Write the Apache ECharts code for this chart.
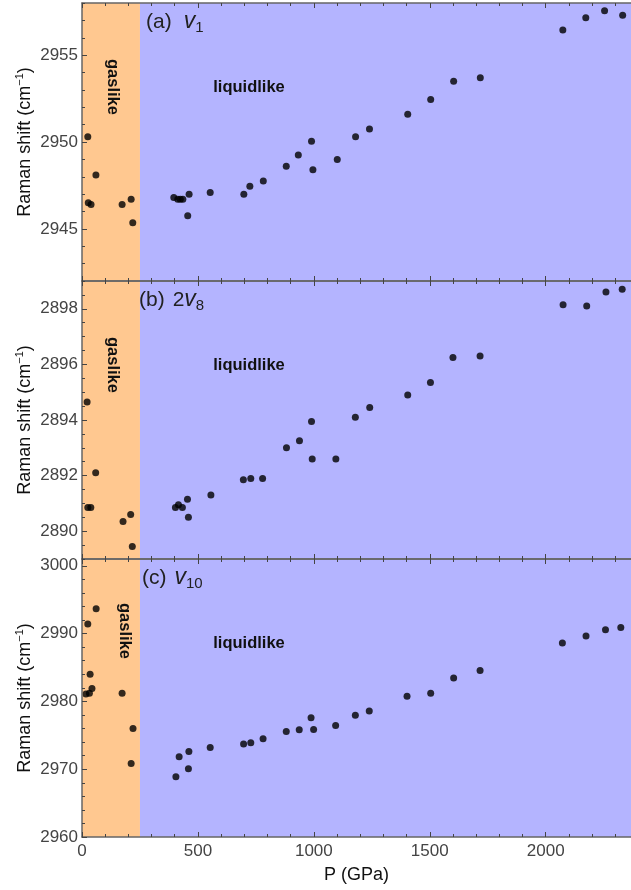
<!DOCTYPE html>
<html>
<head>
<meta charset="utf-8">
<title>Raman shift vs P</title>
<script src="https://cdn.jsdelivr.net/npm/echarts@6/dist/echarts.min.js"></script>
<style>
  html, body { margin: 0; padding: 0; background: #fff; }
  #main { width: 631px; height: 890px; }
</style>
</head>
<body>
<div id="main"></div>
<script>
// pressure (GPa) and Raman shift (cm-1) for the three modes
var pA = [25, 27, 39, 60, 173, 212, 219, 396, 413, 424, 435, 456, 462, 553, 698, 724, 782, 881, 933, 990, 996, 1101, 1180, 1240, 1405, 1504, 1603, 1718, 2074, 2173, 2254, 2332];
var ramanA = [2950.3, 2946.5, 2946.4, 2948.1, 2946.4, 2946.7, 2945.35, 2946.8, 2946.7, 2946.7, 2946.7, 2945.75, 2947.0, 2947.1, 2947.0, 2947.45, 2947.75, 2948.6, 2949.25, 2950.05, 2948.4, 2949.0, 2950.3, 2950.75, 2951.6, 2952.45, 2953.5, 2953.7, 2956.45, 2957.15, 2957.55, 2957.3];

var pB = [22, 25, 38, 59, 177, 210, 217, 403, 416, 433, 455, 459, 556, 696, 728, 779, 882, 938, 990, 993, 1095, 1179, 1241, 1405, 1503, 1600, 1717, 2075, 2177, 2260, 2330];
var ramanB = [2894.65, 2890.85, 2890.85, 2892.1, 2890.35, 2890.6, 2889.45, 2890.85, 2890.95, 2890.85, 2891.15, 2890.5, 2891.3, 2891.85, 2891.9, 2891.9, 2893.0, 2893.25, 2893.95, 2892.6, 2892.6, 2894.1, 2894.45, 2894.9, 2895.35, 2896.25, 2896.3, 2898.15, 2898.1, 2898.6, 2898.7];

var pC = [17, 25, 32, 35, 43, 61, 173, 212, 220, 405, 419, 459, 461, 553, 697, 728, 781, 881, 937, 988, 999, 1094, 1179, 1239, 1402, 1504, 1603, 1717, 2072, 2174, 2258, 2324];
var ramanC = [2981.1, 2991.4, 2981.2, 2984.0, 2981.9, 2993.65, 2981.2, 2970.85, 2976.0, 2968.9, 2971.85, 2970.05, 2972.6, 2973.2, 2973.7, 2973.9, 2974.5, 2975.55, 2975.8, 2977.6, 2975.85, 2976.45, 2977.95, 2978.6, 2980.75, 2981.2, 2983.45, 2984.55, 2988.6, 2989.65, 2990.55, 2990.9];

// axis ranges and tick labels
var pMax = 2368;
var gasEdge = 250;
var yRangeA = [2942, 2958], yTicksA = [2945, 2950, 2955];
var yRangeB = [2889, 2899], yTicksB = [2890, 2892, 2894, 2896, 2898];
var yRangeC = [2960, 3001], yTicksC = [2960, 2970, 2980, 2990, 3000];
var minorStep = [1, 0.5, 2];
var titles = ['(a){i|v}{sub|1}', '(b){n|2}{j|v}{sub|8}', '(c){i2|v}{sub|10}'];
var titleLeft = [146, 139, 142];

var FONT = '"Liberation Sans", Arial, sans-serif';
var panelTop = [3, 281, 559];
var panelH = 278;

function zip(xs, ys) {
  var out = [];
  for (var i = 0; i < xs.length; i++) out.push([xs[i], ys[i]]);
  return out;
}
function plain(v) { return String(v); }

var sets = [zip(pA, ramanA), zip(pB, ramanB), zip(pC, ramanC)];
var ranges = [yRangeA, yRangeB, yRangeC];
var ticks = [yTicksA, yTicksB, yTicksC];

var grid = [], xAxis = [], yAxis = [], series = [], graphic = [];

for (var k = 0; k < 3; k++) {
  var last = (k === 2);
  grid.push({ left: 82, right: 0, top: panelTop[k], height: panelH, outerBoundsMode: 'none', containLabel: false });
  // bottom frame
  xAxis.push({
    gridIndex: k, type: 'value', min: 0, max: pMax, interval: 500, position: 'bottom', z: 5,
    axisLine: { show: true, lineStyle: { color: '#666', width: 1.5 } },
    axisTick: { show: true, inside: true, length: 5, lineStyle: { color: '#444' } },
    minorTick: { show: true, splitNumber: 5, length: 3, lineStyle: { color: '#444' } },
    splitLine: { show: false },
    axisLabel: { show: last, showMaxLabel: false, margin: 6, fontSize: 17, color: '#444', fontFamily: FONT, formatter: plain },
    name: last ? 'P (GPa)' : '', nameLocation: 'middle', nameGap: 29, nameMoveOverlap: false,
    nameTextStyle: { fontSize: 18, color: '#111', fontFamily: FONT }
  });
  // top frame
  xAxis.push({
    gridIndex: k, type: 'value', min: 0, max: pMax, interval: 500, position: 'top', z: 5,
    axisLine: { show: true, lineStyle: { color: '#666', width: 1.5 } },
    axisTick: { show: true, inside: true, length: 5, lineStyle: { color: '#444' } },
    minorTick: { show: true, splitNumber: 5, length: 3, lineStyle: { color: '#444' } },
    splitLine: { show: false },
    axisLabel: { show: false }
  });
  // major y ticks + labels
  yAxis.push({
    gridIndex: k, type: 'value', min: ranges[k][0], max: ranges[k][1], position: 'left', z: 5,
    axisLine: { show: true, lineStyle: { color: '#666', width: 1.5 } },
    axisTick: { show: true, inside: true, length: 5, customValues: ticks[k], lineStyle: { color: '#444' } },
    axisLabel: { show: true, customValues: ticks[k], margin: 4, fontSize: 17, color: '#444', fontFamily: FONT, formatter: plain },
    splitLine: { show: false },
    name: 'Raman shift (cm{sup|−1})', nameLocation: 'middle', nameGap: 46, nameMoveOverlap: false,
    nameTextStyle: {
      fontSize: 18, color: '#111', fontFamily: FONT, lineHeight: 22,
      rich: { sup: { fontSize: 11, verticalAlign: 'top', lineHeight: 22, color: '#111', fontFamily: FONT } }
    }
  });
  // minor y ticks
  yAxis.push({
    gridIndex: k, type: 'value', min: ranges[k][0], max: ranges[k][1], interval: minorStep[k], position: 'left', z: 5,
    axisLine: { show: false },
    axisTick: { show: true, inside: true, length: 3, lineStyle: { color: '#444' } },
    axisLabel: { show: false },
    splitLine: { show: false }
  });

  series.push({
    type: 'scatter', xAxisIndex: 2 * k, yAxisIndex: 2 * k,
    data: sets[k], symbolSize: 7, itemStyle: { color: '#000' },
    markArea: {
      silent: true,
      data: [
        [{ xAxis: 0, itemStyle: { color: '#ffc890' } }, { xAxis: gasEdge }],
        [{ xAxis: gasEdge, itemStyle: { color: '#b4b4ff' } }, { xAxis: pMax }]
      ]
    }
  });

  graphic.push({
    type: 'text', left: titleLeft[k], top: panelTop[k] + 6, z: 10,
    style: {
      text: titles[k], fontSize: 21, fontFamily: FONT, fill: '#222', lineHeight: 26,
      rich: {
        n: { fontSize: 21, fontFamily: FONT, lineHeight: 26, fill: '#222', padding: [0, 0, 0, 8] },
        i: { fontSize: 23, fontStyle: 'italic', fontFamily: FONT, lineHeight: 26, fill: '#222', padding: [0, 0, 0, 12] },
        i2: { fontSize: 23, fontStyle: 'italic', fontFamily: FONT, lineHeight: 26, fill: '#222', padding: [0, 0, 0, 8] },
        j: { fontSize: 23, fontStyle: 'italic', fontFamily: FONT, lineHeight: 26, fill: '#222' },
        sub: { fontSize: 15, fontFamily: FONT, lineHeight: 14, verticalAlign: 'bottom', fill: '#222' }
      }
    }
  });
  graphic.push({
    type: 'text', x: 249, y: panelTop[k] + 84, z: 10,
    style: { text: 'liquidlike', fontSize: 16.5, fontFamily: FONT, fontWeight: 'bold', fill: '#111', align: 'center', verticalAlign: 'middle' }
  });
  graphic.push({
    type: 'text', x: k === 2 ? 125 : 113, y: panelTop[k] + (k === 2 ? 72 : 84), rotation: -Math.PI / 2, z: 10,
    style: { text: 'gaslike', fontSize: 16.5, fontFamily: FONT, fontWeight: 'bold', fill: '#111', align: 'center', verticalAlign: 'middle' }
  });
}

var chart = echarts.init(document.getElementById('main'));
chart.setOption({
  animation: false,
  backgroundColor: '#fff',
  grid: grid,
  xAxis: xAxis,
  yAxis: yAxis,
  series: series,
  graphic: graphic
});
</script>
</body>
</html>
